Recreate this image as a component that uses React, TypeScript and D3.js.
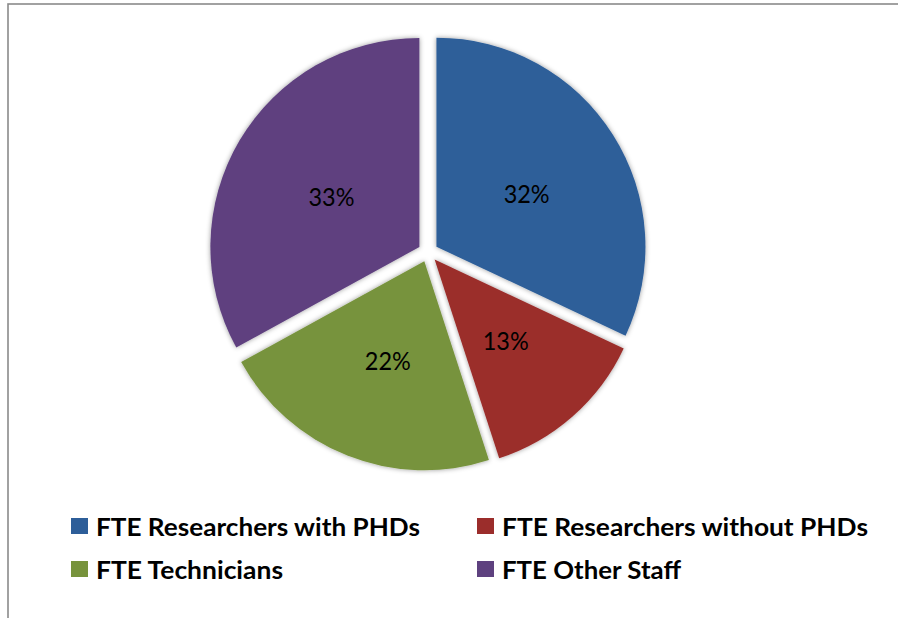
import React from "react";
import * as d3 from "d3";

const categories = [
  "FTE Researchers with PHDs",
  "FTE Researchers without PHDs",
  "FTE Technicians",
  "FTE Other Staff",
];
const values = [32, 13, 22, 33];
const colors = ["#2D5E99", "#9B2D2B", "#77933C", "#5E417F"];

// legend order (row-major, two columns)
const legendOrder = [0, 1, 2, 3];
const legendTextWidths = [324, 366, 187, 179];

const W = 898;
const H = 618;
const CX = 428;
const CY = 252;
const R = 209;
const EXPLODE = 10;

export default function App() {
  const pie = d3
    .pie<number>()
    .sort(null)
    .startAngle(0)
    .endAngle(2 * Math.PI)
    .value((d) => d);
  const arcs = pie(values);
  const arc = d3.arc<d3.PieArcDatum<number>>().innerRadius(0).outerRadius(R);

  const legendX = [71, 477];
  const legendY = [518, 561];

  return (
    <svg
      width={W}
      height={H}
      style={{ position: "absolute", left: 0, top: 0, background: "#fff" }}
      fontFamily="Lato, 'Open Sans', sans-serif"
    >
      <defs>
        <filter id="glow" x="-20%" y="-20%" width="140%" height="140%">
          <feDropShadow dx="0" dy="0" stdDeviation="2.5" floodColor="#000" floodOpacity="0.4" />
        </filter>
      </defs>
      <rect x={8} y={4} width={W + 20} height={H + 20} fill="#fff" stroke="#8a8a8a" strokeWidth={1.6} />
      {arcs.map((a, i) => {
        const mid = (a.startAngle + a.endAngle) / 2;
        const dx = EXPLODE * Math.sin(mid);
        const dy = -EXPLODE * Math.cos(mid);
        const [lx, ly] = arc.centroid(a);
        return (
          <g key={i} transform={`translate(${CX + dx},${CY + dy})`}>
            <path d={arc(a) || ""} fill={colors[i]} filter="url(#glow)" />
            <text
              x={lx + 2}
              y={ly + 2}
              textAnchor="middle"
              dominantBaseline="central"
              fontFamily="Lato"
              fontSize={25}
              fill="#000"
              textLength={46}
              lengthAdjust="spacingAndGlyphs"
            >
              {`${values[i]}%`}
            </text>
          </g>
        );
      })}
      {legendOrder.map((idx, k) => {
        const col = k % 2;
        const row = Math.floor(k / 2);
        const x = legendX[col];
        const y = legendY[row];
        return (
          <g key={idx}>
            <rect x={x} y={y} width={17} height={16} fill={colors[idx]} />
            <text
              x={x + 25}
              y={y + 18}
              fontSize={25.5}
              fontWeight="bold"
              fill="#000"
              textLength={legendTextWidths[idx]}
              lengthAdjust="spacingAndGlyphs"
            >
              {categories[idx]}
            </text>
          </g>
        );
      })}
    </svg>
  );
}
